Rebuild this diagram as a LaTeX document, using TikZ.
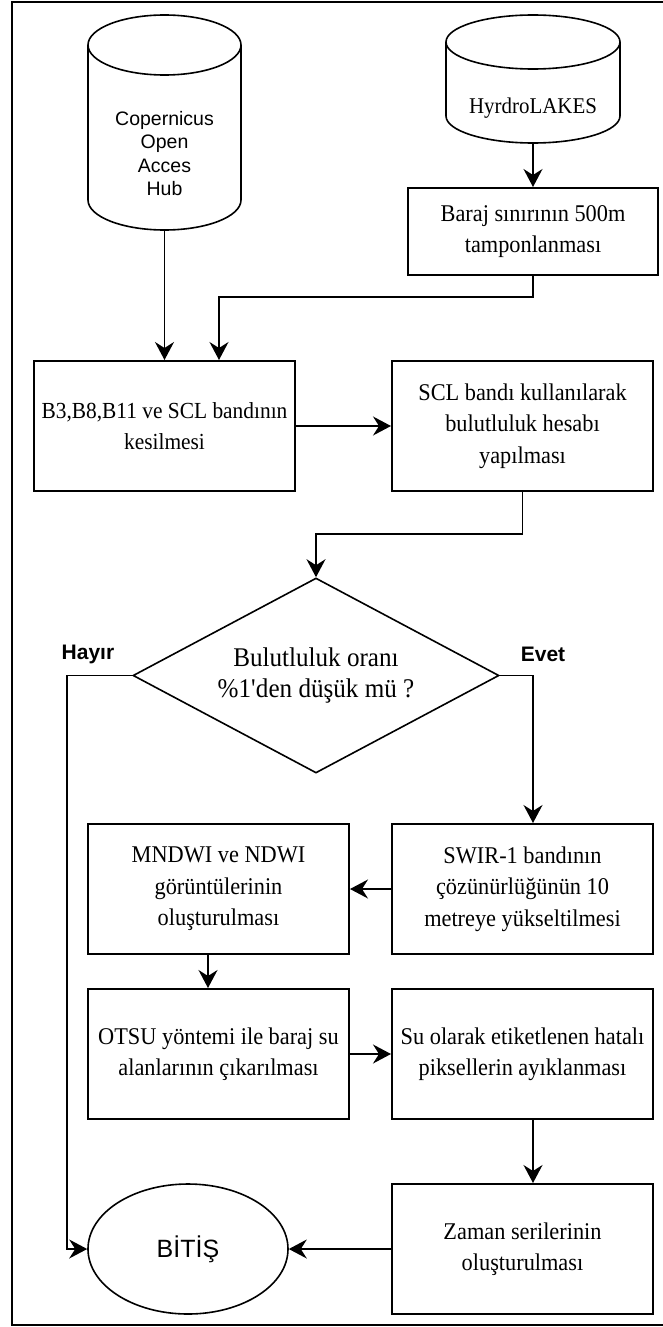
\documentclass[tikz,border=0pt]{standalone}
\usepackage{fontspec}
\setmainfont{Liberation Serif}[FakeStretch=0.93]
\setsansfont{Liberation Sans}
\usetikzlibrary{shapes.geometric,arrows.meta}

\begin{document}
\begin{tikzpicture}[x=1pt,y=1pt,
        box/.style={draw,line width=2pt,minimum width=261pt,minimum height=130pt,inner sep=1pt,align=center,font=\fontsize{24}{31.5}\selectfont},
        db/.style={inner sep=0pt,outer sep=0pt},
        line/.style={line width=1.6pt},
        flow/.style={line width=1.6pt,-{Stealth[length=18pt,width=19pt,inset=6pt]}},
        lbl/.style={font=\fontsize{21}{25}\sffamily\bfseries}]
    	        \useasboundingbox (0,0) rectangle (662,-1327);
    	        % Frame
    	        \draw[line width=1.6pt] (665,-2) -- (12,-2) -- (12,-1325) -- (665,-1325);
    	        % Sources
    	        \node[db,minimum width=153pt,minimum height=215pt] (cop) at (164.5,-122.5) {};
    	        \node[align=center,font=\fontsize{19.5}{23.5}\sffamily] (coptxt) at (164.5,-153.5) {Copernicus\\Open\\Acces\\Hub};
    	        \draw[line] ([yshift=-30]cop.north west) -- ([yshift=30]cop.south west) arc[start angle=180,end angle=360,x radius=76.5,y radius=30] -- ([yshift=-30]cop.north east);
    	        \draw[line] ([yshift=-30]cop.north) ellipse[x radius=76.5,y radius=30];
    	        \node[db,minimum width=174pt,minimum height=128pt] (hyd) at (533,-79) {};
    	        \node[font=\fontsize{22.5}{25}\selectfont] (hydtxt) at (533,-108) {HyrdroLAKES};
    	        \draw[line] ([yshift=-27]hyd.north west) -- ([yshift=27]hyd.south west) arc[start angle=180,end angle=360,x radius=87,y radius=27] -- ([yshift=-27]hyd.north east);
    	        \draw[line] ([yshift=-27]hyd.north) ellipse[x radius=87,y radius=27];
    	        % Steps
    	        \node[box,minimum width=250pt,minimum height=87pt] (baraj) at (533,-231.5) {Baraj sınırının 500m\\tamponlanması};
    	        \node[box,font=\fontsize{23}{31.5}\selectfont] (b3) at (164.5,-426) {B3,B8,B11 ve SCL bandının\\kesilmesi};
    	        \node[box] (scl) at (522.5,-426) {SCL bandı kullanılarak\\bulutluluk hesabı\\yapılması};
    	        \node[draw,diamond,line width=1.6pt,minimum width=366pt,minimum height=195pt,inner sep=0pt] (dec) at (316,-675.5) {};
    	        \node[align=center,font=\fontsize{27}{31.5}\selectfont] (dectxt) at (316,-675.5) {Bulutluluk oranı\\\%1\textquotesingle den düşük mü ?};
    	        \node[box] (swir) at (522.5,-889) {SWIR-1 bandının\\çözünürlüğünün 10\\metreye yükseltilmesi};
    	        \node[box] (mndwi) at (218.5,-889) {MNDWI ve NDWI\\görüntülerinin\\oluşturulması};
    	        \node[box] (otsu) at (218.5,-1054) {OTSU yöntemi ile baraj su\\alanlarının çıkarılması};
    	        \node[box] (su) at (522.5,-1054) {Su olarak etiketlenen hatalı\\piksellerin ayıklanması};
    	        \node[box] (zaman) at (522.5,-1249) {Zaman serilerinin\\oluşturulması};
    	        \node[draw,ellipse,line width=1.6pt,minimum width=200pt,minimum height=130pt,inner sep=0pt,font=\fontsize{25}{28}\sffamily] (bitis) at (188,-1249) {BİTİŞ};
    	        % Branch labels
    	        \node[lbl] (hayir) at (88,-654) {Hayır};
    	        \node[lbl] (evet) at (543,-654) {Evet};
    	        % Connectors
    	        \draw[flow] (cop.south) -- (b3.north);
    	        \draw[flow] (hyd.south) -- (baraj.north);
    	        \draw[flow] (baraj.south) -- ++(0,-21) -| ([xshift=54.5]b3.north);
    	        \draw[flow] (b3.east) -- (scl.west);
    	        \draw[flow] (scl.south) -- ++(0,-42) -| (dec.north);
    	        \draw[flow] (dec.east) -| ([xshift=10.5]swir.north);
    	        \draw[flow] (dec.west) -- ++(-65,0) |- (bitis.west);
    	        \draw[flow] (swir.west) -- (mndwi.east);
    	        \draw[flow] ([xshift=-10.5]mndwi.south) -- ([xshift=-10.5]otsu.north);
    	        \draw[flow] (otsu.east) -- (su.west);
    	        \draw[flow] ([xshift=10.5]su.south) -- ([xshift=10.5]zaman.north);
    	        \draw[flow] (zaman.west) -- (bitis.east);
\end{tikzpicture}
\end{document}
